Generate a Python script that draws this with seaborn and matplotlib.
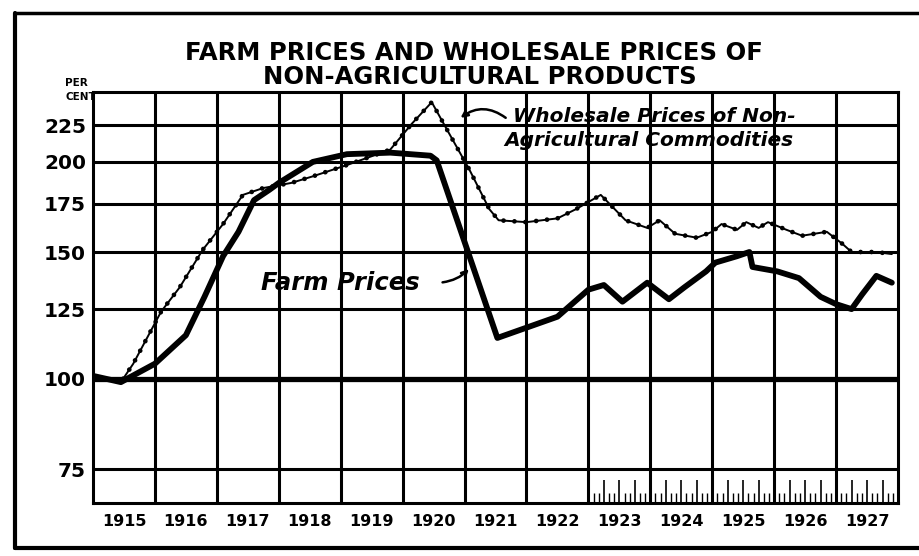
import numpy as np
import pandas as pd
import matplotlib
matplotlib.use('Agg')
import matplotlib.pyplot as plt
import matplotlib.ticker as mticker
import matplotlib.transforms as mtransforms
from matplotlib.lines import Line2D
import seaborn as sns

# Data (index)
farm_years = [1915.0, 1915.45, 1916.0, 1916.5, 1916.8, 1917.1, 1917.35, 1917.6, 1917.85,
              1918.0, 1918.55, 1919.1, 1919.8, 1920.45, 1920.55, 1921.53, 1922.5, 1923.0,
              1923.25, 1923.55, 1923.95, 1924.3, 1924.55, 1924.9, 1925.05, 1925.4, 1925.6,
              1925.65, 1926.05, 1926.4, 1926.75, 1927.0, 1927.25, 1927.42, 1927.65, 1927.9]
farm_vals = [101, 99, 105, 115, 130, 148, 160, 177, 183,
             187, 200, 205, 206, 204, 201, 114, 122, 133,
             135, 128, 136, 129, 134, 141, 145, 148, 150,
             143, 141, 138, 130, 127, 125, 131, 139, 136]

whole_years = [1915.0, 1915.45, 1915.65, 1916.1, 1916.4, 1916.77, 1917.1, 1917.42, 1917.75,
               1918.2, 1918.55, 1919.1, 1919.8, 1920.15, 1920.47, 1920.7, 1921.08, 1921.4,
               1921.55, 1922.0, 1922.5, 1922.8, 1923.2, 1923.6, 1923.95, 1924.15, 1924.4,
               1924.75, 1925.0, 1925.15, 1925.4, 1925.55, 1925.75, 1925.9, 1926.2, 1926.45,
               1926.85, 1927.1, 1927.25, 1927.65, 1927.9]
whole_vals = [101, 99, 105, 124, 134, 151, 164, 180, 184,
              187, 191, 198, 208, 226, 242, 223, 195, 172,
              166, 165, 167, 172, 180, 166, 162, 166, 159,
              157, 160, 164, 161, 165, 162, 165, 161, 158,
              160, 154, 150, 150, 149]

year_labels = [str(y) for y in range(1915, 1928)]
y_ticks = [75, 100, 125, 150, 175, 200, 225]

farm = pd.DataFrame({'year': farm_years, 'index': farm_vals})
whole = pd.DataFrame({'year': whole_years, 'index': whole_vals})

sns.set_style('white')
plt.rcParams['font.family'] = ['DejaVu Sans']
plt.rcParams['text.color'] = 'black'
plt.rcParams['xtick.color'] = 'black'
plt.rcParams['ytick.color'] = 'black'

fig = plt.figure(figsize=(9.2, 5.56), dpi=100)
ax = fig.add_axes([0.1011, 0.0953, 0.875, 0.7392])

# wholesale: thin line with beads
sns.lineplot(data=whole, x='year', y='index', ax=ax, color='black', lw=1.4, sort=False, zorder=4)
sns.lineplot(data=whole, x='year', y='index', ax=ax, color='black', lw=3.4, sort=False,
             linestyle=(0, (0.01, 2.3)), dash_capstyle='round', zorder=4)
# farm prices: heavy line
sns.lineplot(data=farm, x='year', y='index', ax=ax, color='black', lw=4.2, sort=False,
             solid_joinstyle='round', zorder=5)

ax.set_yscale('log')
ax.set_ylim(67.3, 250)
ax.set_xlim(1915, 1928)
ax.yaxis.set_major_locator(mticker.FixedLocator(y_ticks))
ax.yaxis.set_major_formatter(mticker.FixedFormatter([str(v) for v in y_ticks]))
ax.yaxis.set_minor_locator(mticker.NullLocator())

# year boundaries as gridlines, labels centred in each year
ax.xaxis.set_major_locator(mticker.FixedLocator(np.arange(1916, 1928)))
ax.xaxis.set_major_formatter(mticker.NullFormatter())
ax.xaxis.set_minor_locator(mticker.FixedLocator(np.arange(1915, 1928) + 0.5))
ax.xaxis.set_minor_formatter(mticker.FixedFormatter(year_labels))

ax.grid(True, which='major', color='black', lw=2.2)
ax.get_ygridlines()[1].set_linewidth(3.8)
ax.tick_params(axis='x', which='both', length=0, pad=8, labelsize=11.5, labelcolor='black')
ax.tick_params(axis='y', length=0, pad=5, labelsize=14.5, labelcolor='black')
for lab in ax.get_xticklabels(minor=True) + ax.get_yticklabels():
    lab.set_fontweight('bold')
for sp in ax.spines.values():
    sp.set_visible(True)
    sp.set_color('black')
    sp.set_linewidth(2.2)
ax.set_xlabel('')
ax.set_ylabel('')

# monthly ticks on the base from 1923
trans = mtransforms.blended_transform_factory(ax.transData, ax.transAxes)
months = np.arange(1923, 1928, 1 / 12)
short = [m for i, m in enumerate(months) if i % 3 != 0]
tall = [m for i, m in enumerate(months) if i % 3 == 0 and i % 12 != 0]
ax.vlines(short, 0, 0.025, color='black', lw=1.0, transform=trans)
ax.vlines(tall, 0, 0.055, color='black', lw=1.2, transform=trans)

# labels on the curves
ax.text(1921.78, 231, 'Wholesale Prices of Non-', fontsize=14.5, fontstyle='italic',
        fontweight='bold', ha='left', va='center')
ax.text(1921.65, 214, 'Agricultural Commodities', fontsize=14.5, fontstyle='italic',
        fontweight='bold', ha='left', va='center')
ax.annotate('', xy=(1920.9, 229), xytext=(1921.7, 229),
            arrowprops=dict(arrowstyle='->', color='black', lw=1.8,
                            connectionstyle='arc3,rad=0.4'))
ax.text(1917.72, 136, 'Farm Prices', fontsize=17.5, fontstyle='italic',
        fontweight='bold', ha='left', va='center')
ax.annotate('', xy=(1921.1, 143), xytext=(1920.6, 136),
            arrowprops=dict(arrowstyle='->', color='black', lw=1.8,
                            connectionstyle='arc3,rad=0.2'))

# title and unit
fig.text(0.515, 0.905, 'FARM PRICES AND WHOLESALE PRICES OF', ha='center', va='center',
         fontsize=17.5, fontweight='bold')
fig.text(0.522, 0.862, 'NON-AGRICULTURAL PRODUCTS', ha='center', va='center',
         fontsize=17.5, fontweight='bold')
fig.text(0.071, 0.838, 'PER\nCENT', ha='left', va='center', fontsize=7.5,
         fontweight='bold', linespacing=1.5)

# outer frame of the clipping
fig.add_artist(Line2D([0.0163, 0.0163], [0.014, 0.977], color='black', lw=3, transform=fig.transFigure))
fig.add_artist(Line2D([0.0163, 1.0], [0.977, 0.977], color='black', lw=2.5, transform=fig.transFigure))
fig.add_artist(Line2D([0.0163, 1.0], [0.014, 0.014], color='black', lw=3, transform=fig.transFigure))

plt.savefig('out.png', dpi=100)
plt.close()
